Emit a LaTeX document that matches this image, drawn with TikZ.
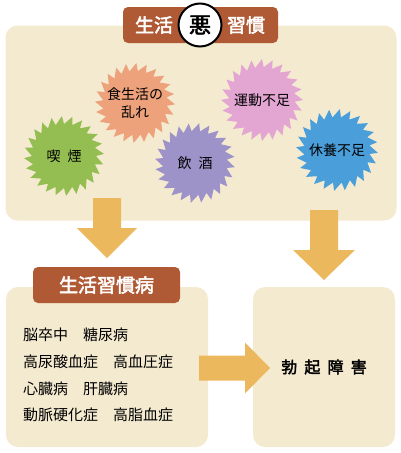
\documentclass[tikz,border=0pt]{standalone}
\usepackage{fontspec}
\setmainfont{Noto Sans CJK JP}[AutoFakeBold=2.5]
\usepackage{tikz}
\usetikzlibrary{calc}
\definecolor{paper}{RGB}{244,234,208}
\definecolor{banner}{RGB}{176,90,53}
\definecolor{arrowgold}{RGB}{235,184,94}
\definecolor{sawgreen}{RGB}{148,190,82}
\definecolor{saworange}{RGB}{237,162,124}
\definecolor{sawpurple}{RGB}{158,147,201}
\definecolor{sawpink}{RGB}{227,166,211}
\definecolor{sawblue}{RGB}{74,159,218}
\newcommand{\fatarrow}[5]{% from, to, shaft half, head half, head length
  \coordinate (fac) at ($(#2)!#5!(#1)$);
  \fill[arrowgold] ($(#1)!#3!90:(#2)$) -- ($(fac)!#3!90:(#2)$) -- ($(fac)!#4!90:(#2)$) -- (#2)
    -- ($(fac)!#4!-90:(#2)$) -- ($(fac)!#3!-90:(#2)$) -- ($(#1)!#3!-90:(#2)$) -- cycle;}
\newcommand{\sawblade}[4]{% centre, radius, colour, phase
  \fill[#3] ($(#1)+(#4:0.8*#2)$) \foreach \t in {0,...,23} {
    -- ($(#1)+({#4+15*\t+12}:#2)$) -- ($(#1)+({#4+15*\t+15}:0.8*#2)$)} -- cycle;}

\begin{document}
\begin{tikzpicture}[x=1pt, y=-1pt,
  panel/.style={fill=paper, draw=none, rounded corners=12pt},
  bannerbox/.style={fill=banner, draw=none, rounded corners=5pt},
  bannertext/.style={text=white, font=\fontsize{19}{19}\selectfont\bfseries, inner sep=0pt},
  habit/.style={align=center, inner sep=0pt, font=\fontsize{14}{18}\selectfont}]
  \useasboundingbox (0,0) rectangle (400,453);
  % panels
  \node[panel, minimum width=391pt, minimum height=195pt] (badbox) at (201,123) {};
  \node[panel, minimum width=202pt, minimum height=160pt] (diseasebox) at (107,367) {};
  \node[panel, minimum width=142pt, minimum height=160pt] (edbox) at (324,367) {};
  % top banner
  \node[bannerbox, minimum width=155pt, minimum height=36pt] (badtitle) at (200.5,25) {};
  \node[bannertext] (seikatsu) at (154,25) {生活};
  \node[circle, fill=white, draw=black, line width=2pt, minimum size=43pt, inner sep=0pt, font=\fontsize{22}{22}\selectfont\bfseries] (aku) at (200,25) {悪};
  \node[bannertext] (shukan) at (246,25) {習慣};
  % habits
  \coordinate (smokec) at (64,156);
  \coordinate (dietc) at (135,103);
  \coordinate (drinkc) at (195,163);
  \coordinate (exercisec) at (262,100);
  \coordinate (restc) at (337,150);
  \sawblade{smokec}{40}{sawgreen}{0}
  \sawblade{dietc}{40}{saworange}{5}
  \sawblade{drinkc}{40}{sawpurple}{9}
  \sawblade{exercisec}{41}{sawpink}{3}
  \sawblade{restc}{41}{sawblue}{7}
  \node[habit] (smoke) at (smokec) {喫\hspace{0.5em}煙};
  \node[habit] (diet) at (dietc) {食生活の\\乱れ};
  \node[habit] (drink) at (drinkc) {飲\hspace{0.5em}酒};
  \node[habit] (exercise) at (exercisec) {運動不足};
  \node[habit] (rest) at (restc) {休養不足};
  % disease banner and list
  \node[bannerbox, minimum width=147pt, minimum height=36pt] (diseasetitle) at (106.5,285) {};
  \node[bannertext] at (diseasetitle) {生活習慣病};
  \node[anchor=west, align=left, inner sep=0pt, font=\fontsize{15}{26.7}\selectfont] (diseases) at (23,375)
    {脳卒中　糖尿病\\高尿酸血症　高血圧症\\心臓病　肝臓病\\動脈硬化症　高脂血症};
  \node[font=\fontsize{16}{16}\selectfont\bfseries] (ed) at (edbox) {勃\hspace{0.45em}起\hspace{0.45em}障\hspace{0.45em}害};
  % block arrows
  \coordinate (leftstart) at (107,198);
  \coordinate (leftend) at (107,258);
  \coordinate (rightstart) at (324,210);
  \coordinate (rightend) at (324,280);
  \coordinate (midstart) at (199,368);
  \coordinate (midend) at (270,368);
  \fatarrow{leftstart}{leftend}{14pt}{30pt}{30pt}
  \fatarrow{rightstart}{rightend}{14pt}{31pt}{30pt}
  \fatarrow{midstart}{midend}{12.5pt}{25.5pt}{25pt}
\end{tikzpicture}
\end{document}
